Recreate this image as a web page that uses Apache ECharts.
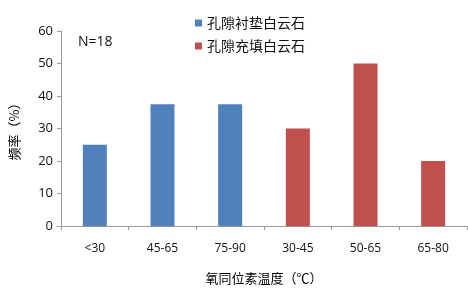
<!DOCTYPE html>
<html><head><meta charset="utf-8">
<script src="https://cdn.jsdelivr.net/npm/echarts@6/dist/echarts.min.js"></script>
<style>html,body{margin:0;padding:0;background:#fff}#c{width:468px;height:293px}</style>
</head><body><div id="c"></div>
<script>
const categories = ['<30','45-65','75-90','30-45','50-65','65-80'];
const liningValues = [25, 37.5, 37.5, null, null, null];
const fillingValues = [null, null, null, 30, 50, 20];
const seriesNames = ['孔隙衬垫白云石','孔隙充填白云石'];
const yTicks = {min:0, max:60, interval:10};

const chart = echarts.init(document.getElementById('c'));
const sans = "'Open Sans','Noto Sans CJK SC',sans-serif";
chart.setOption({
  animation:false,
  grid:{left:55,right:1,top:31,bottom:67},
  legend:{
    orient:'vertical', left:190, top:11, itemGap:9,
    itemWidth:7, itemHeight:7, icon:'rect',
    textStyle:{fontFamily:"'Noto Sans CJK SC'",fontSize:14,color:'#111'},
    data:seriesNames
  },
  graphic:[{type:'text',left:78,top:35,style:{text:'N=18',font:"14px 'Open Sans'",fill:'#111'}}],
  xAxis:{
    type:'category', data:categories,
    axisLine:{lineStyle:{color:'#999'}},
    axisTick:{show:true,length:4,lineStyle:{color:'#999'}},
    axisLabel:{color:'#111',fontFamily:sans,fontSize:12,margin:17},
    name:'氧同位素温度（℃）', nameLocation:'middle', nameGap:46,
    nameTextStyle:{fontFamily:"'Noto Sans CJK SC'",fontSize:13,color:'#000'}
  },
  yAxis:{
    type:'value', min:yTicks.min, max:yTicks.max, interval:yTicks.interval,
    axisLine:{show:true,lineStyle:{color:'#999'}},
    axisTick:{show:true,length:4,lineStyle:{color:'#999'}},
    splitLine:{show:false},
    axisLabel:{color:'#111',fontFamily:sans,fontSize:13,margin:8},
    name:'频率（%）', nameLocation:'middle', nameGap:40, nameRotate:90,
    nameTextStyle:{fontFamily:"'Noto Sans CJK SC'",fontSize:13,color:'#000'}
  },
  series:[
    {name:seriesNames[0],type:'bar',data:liningValues,barWidth:24,barGap:'-100%',itemStyle:{color:'#4F81BD'}},
    {name:seriesNames[1],type:'bar',data:fillingValues,barWidth:24,barGap:'-100%',itemStyle:{color:'#C0504D'}}
  ]
});
</script></body></html>
